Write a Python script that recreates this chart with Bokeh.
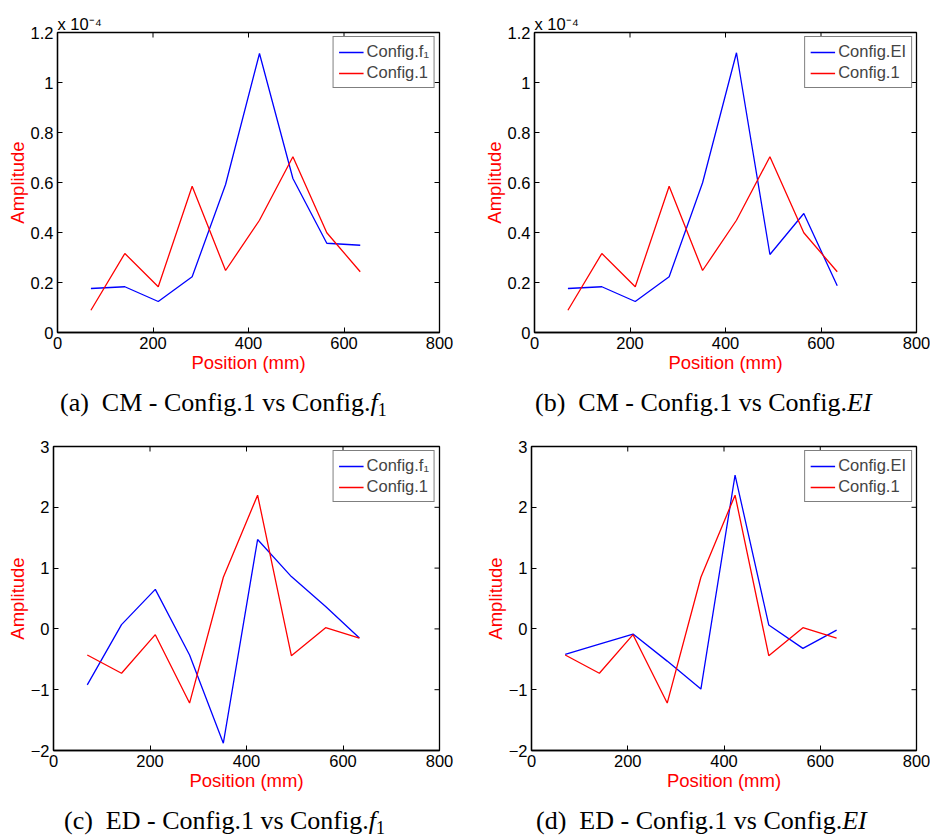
import math
from bokeh.plotting import figure
from bokeh.models import (Range1d, FixedTicker, Legend, LegendItem, Title,
                          CustomJSTickFormatter, Div)
from bokeh.layouts import column, row
from bokeh.embed import file_html
from bokeh.resources import INLINE

# ---------------- data ----------------
positions_mm = [70, 141, 211, 282, 352, 423, 493, 564, 634]

# CM amplitudes, in units of 1e-4
cm_config1 = [0.089, 0.316, 0.183, 0.585, 0.248, 0.449, 0.703, 0.399, 0.243]
cm_config_f1 = [0.176, 0.183, 0.124, 0.223, 0.592, 1.116, 0.616, 0.357, 0.349]
cm_config_ei = [0.176, 0.183, 0.124, 0.223, 0.599, 1.119, 0.312, 0.476, 0.187]

# ED amplitudes
ed_config1 = [-0.43, -0.73, -0.095, -1.22, 0.85, 2.20, -0.44, 0.02, -0.15]
ed_config_f1 = [-0.92, 0.07, 0.65, -0.43, -1.88, 1.47, 0.86, 0.37, -0.15]
ed_config_ei = [-0.42, -0.25, -0.085, -0.53, -0.99, 2.53, 0.065, -0.32, -0.02]

x_ticks = [0, 200, 400, 600, 800]
cm_y_ticks = [0, 0.2, 0.4, 0.6, 0.8, 1.0, 1.2]
ed_y_ticks = [-2, -1, 0, 1, 2, 3]
cm_range = (0, 1.2)
ed_range = (-2, 3)

label_f1 = "Config.f\u2081"
label_ei = "Config.EI"
label_c1 = "Config.1"

SANS = "Liberation Sans"
SERIF = "Liberation Serif"

fmt_code = """
const v = Math.round(tick*10)/10;
const s = String(Math.abs(v));
return v < 0 ? '\\u2212' + s : s;
"""


def make_panel(width, height, bl, br, bt, bb, yr, yticks, blue_vals, red_vals,
               blue_label, multiplier):
    p = figure(width=width, height=height, x_range=Range1d(0, 800),
               y_range=Range1d(*yr), output_backend="svg", toolbar_location=None,
               min_border_left=bl, min_border_right=br, min_border_top=bt,
               min_border_bottom=bb)
    p.background_fill_color = "white"
    p.border_fill_color = "white"
    p.outline_line_color = "black"
    p.outline_line_width = 1.3
    p.grid.visible = False

    xa = p.below[0]
    ya = p.left[0]
    xa.ticker = FixedTicker(ticks=x_ticks)
    ya.ticker = FixedTicker(ticks=yticks)
    ya.formatter = CustomJSTickFormatter(code=fmt_code)
    for ax in (xa, ya):
        ax.major_tick_in = 5
        ax.major_tick_out = 0
        ax.minor_tick_line_color = None
        ax.axis_line_color = "black"
        ax.axis_line_width = 1.3
        ax.major_tick_line_color = "black"
        ax.major_label_text_font = SANS
        ax.major_label_text_font_size = "16.5px"
        ax.major_label_text_color = "black"
        ax.major_label_standoff = 4
        ax.axis_label_text_font = SANS
        ax.axis_label_text_font_size = "18.5px"
        ax.axis_label_text_font_style = "normal"
        ax.axis_label_text_color = "#ff0000"
        ax.axis_label_standoff = 0
    xa.axis_label = "Position (mm)"
    ya.axis_label = "Amplitude"

    # inward tick marks on the top and right edges of the box
    ymin, ymax = yr
    top_x = x_ticks[1:-1]
    p.ray(x=top_x, y=[ymax] * len(top_x), length=5, length_units="screen",
          angle=-math.pi / 2, line_color="black", line_width=1)
    right_y = yticks[1:-1]
    p.ray(x=[800] * len(right_y), y=right_y, length=5, length_units="screen",
          angle=math.pi, line_color="black", line_width=1)

    rb = p.line(positions_mm, blue_vals, line_color="#0000ff", line_width=1.3)
    rr = p.line(positions_mm, red_vals, line_color="#ff0000", line_width=1.3)

    legend = Legend(items=[LegendItem(label=blue_label, renderers=[rb]),
                           LegendItem(label=label_c1, renderers=[rr])],
                    location="top_right")
    legend.label_text_font = SANS
    legend.label_text_font_size = "16.5px"
    legend.glyph_width = 25
    legend.glyph_height = 18
    legend.label_height = 18
    legend.label_standoff = 3
    legend.padding = 5
    legend.spacing = 2
    legend.margin = 4
    legend.border_line_color = "black"
    legend.border_line_width = 1.3
    legend.background_fill_alpha = 1
    p.add_layout(legend)

    if multiplier:
        t = Title(text="x 10\u207b\u2074", align="left", text_font=SANS,
                  text_font_size="16.5px", text_font_style="normal",
                  text_color="black", standoff=0, offset=0)
        p.add_layout(t, "above")
    return p


def caption_div(prefix, body, italic, sub, width, height, left, top):
    sub_html = ""
    if sub:
        sub_html = ('<span style="font-size:18px; position:relative; top:5px;">'
                    + sub + '</span>')
    html = ('<div style="margin:' + str(top) + 'px 0 0 ' + str(left) + 'px; '
            "font-family:'Liberation Serif'; font-size:26px; line-height:26px; "
            'white-space:nowrap; color:black;">'
            + prefix + '&ensp;' + body + '<i>' + italic + '</i>' + sub_html + '</div>')
    return Div(text=html, width=width, height=height, margin=(0, 0, 0, 0))


pa = make_panel(466, 378, 57, 27, 32, 46, cm_range, cm_y_ticks,
                cm_config_f1, cm_config1, label_f1, True)
pb = make_panel(464, 378, 68, 14, 32, 46, cm_range, cm_y_ticks,
                cm_config_ei, cm_config1, label_ei, True)
pc = make_panel(466, 374, 53, 27, 24, 46, ed_range, ed_y_ticks,
                ed_config_f1, ed_config1, label_f1, False)
pd = make_panel(464, 374, 65, 14, 24, 46, ed_range, ed_y_ticks,
                ed_config_ei, ed_config1, label_ei, False)

ca = caption_div("(a)", "CM - Config.1 vs Config.", "f", "1", 466, 44, 60, 12)
cb = caption_div("(b)", "CM - Config.1 vs Config.", "EI", None, 464, 44, 69, 12)
cc = caption_div("(c)", "ED - Config.1 vs Config.", "f", "1", 466, 40, 64, 12)
cd = caption_div("(d)", "ED - Config.1 vs Config.", "EI", None, 464, 40, 70, 12)

layout = column(row(pa, pb), row(ca, cb), row(pc, pd), row(cc, cd))

with open("out.html", "w") as f:
    f.write(file_html(layout, INLINE))
